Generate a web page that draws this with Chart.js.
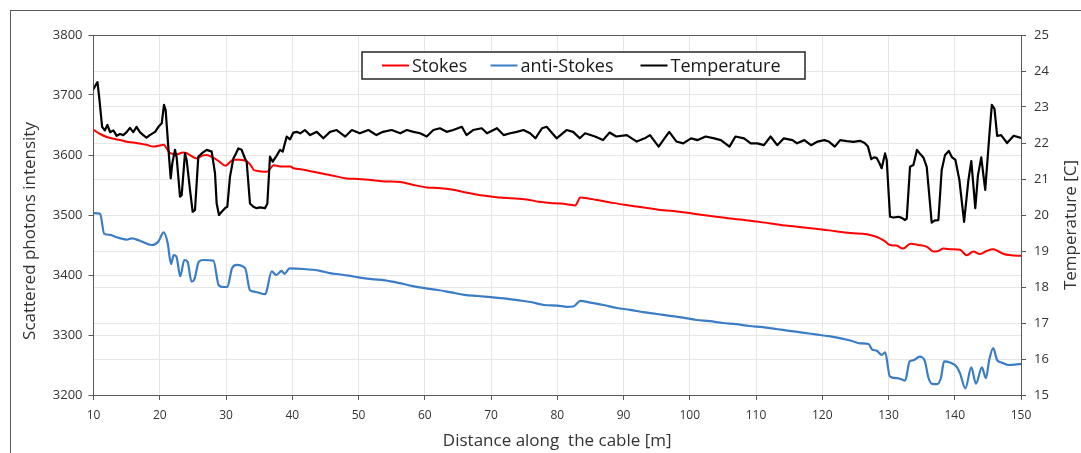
<!DOCTYPE html>
<html>
<head>
<meta charset="utf-8">
<script src="https://cdn.jsdelivr.net/npm/chart.js@4.4.0/dist/chart.umd.min.js"></script>
<style>
  body { margin: 0; background: #fff; }
  #wrap { position: relative; width: 1081px; height: 453px; overflow: hidden; }
  #frame { position: absolute; left: 10px; top: 10px; width: 1100px; height: 470px; border: 1px solid #595959; }
  #chart { position: absolute; left: 0; top: 0; }
</style>
</head>
<body>
<div id="wrap">
  <div id="frame"></div>
  <canvas id="chart" width="1081" height="453"></canvas>
</div>
<script>
// Stokes (left axis)
const stokesX = [10, 11, 12, 13, 14, 15, 16, 17, 18, 19, 20, 20.6, 21.2, 21.6, 22.5, 23.5, 24.1, 24.8, 25.6, 26.4,
  27.1, 28, 29, 29.9, 30.5, 31.1, 32, 33.2, 33.8, 34.2, 35, 36.2, 36.8, 37.2, 38.2, 39.7, 40.2, 41.5, 43.2, 44.5,
  46, 48.2, 50, 52.2, 54, 56.3, 58, 60.3, 62, 64.3, 66, 68.4, 70, 71.4, 73, 75.4, 77.2, 78.9, 80.5, 82,
  82.7, 83.5, 84.5, 86, 88, 90.1, 92, 94.1, 96, 98, 100.2, 102, 104, 106.2, 108, 110, 112.2, 114, 116, 118.3,
  120, 122, 124.3, 126.7, 127.8, 128.7, 129.5, 130.2, 131.2, 132.2, 133.3, 134.5, 135.8, 136.8, 137.5, 138.3, 139.5, 140.8, 141.8, 142.8,
  143.8, 144.8, 145.8, 146.5, 147.4, 148.5, 150];
const stokesY = [3642, 3635, 3630, 3627, 3625, 3622, 3621, 3619, 3617, 3614, 3616, 3617, 3608, 3603, 3601, 3604, 3603, 3598, 3594, 3599,
  3600, 3596, 3589, 3582, 3587, 3592, 3592, 3589, 3582, 3575, 3573, 3572, 3579, 3583, 3581, 3581, 3578, 3576, 3572, 3569,
  3566, 3561, 3560, 3558, 3556, 3555, 3551, 3546, 3545, 3542, 3538, 3533, 3531, 3529, 3528, 3526, 3522, 3520, 3519, 3517,
  3516, 3529, 3528, 3525, 3521, 3517, 3514, 3511, 3508, 3506, 3503, 3500, 3497, 3494, 3492, 3489, 3486, 3483, 3481, 3478,
  3476, 3473, 3470, 3468, 3465, 3461, 3456, 3450, 3449, 3444, 3452, 3450, 3447, 3439, 3440, 3444, 3443, 3442, 3433, 3439,
  3435, 3440, 3443, 3440, 3435, 3433, 3432];

// anti-Stokes (left axis)
const antiX = [10, 11, 11.6, 12.5, 13.5, 15, 15.8, 17, 18.8, 19.8, 20.6, 21.2, 21.7, 22.1, 22.5, 23.1, 23.7, 24.2, 24.8, 25.2,
  25.9, 26.6, 28.1, 28.9, 29.6, 30.2, 30.9, 31.6, 32.9, 33.6, 34.4, 35.9, 36.1, 36.9, 37.6, 38.4, 38.8, 39.6, 41.7, 44.2,
  45.7, 47.2, 48.5, 50, 52, 54, 56, 58, 60, 62, 64, 66, 68, 70, 72, 74, 76, 78, 80, 81.5,
  82.5, 83.5, 85, 87, 89, 91, 93, 95, 97, 99, 101, 103, 105, 107, 109, 111, 113, 115, 117, 119,
  121, 123, 124.5, 125.7, 127, 127.5, 128.2, 129, 129.5, 130.2, 131.2, 132, 132.5, 133.2, 133.8, 134.7, 135.5, 136, 136.5, 137.3,
  137.9, 138.4, 139.3, 140.3, 140.8, 141.6, 142.5, 143.2, 144.1, 144.7, 145.2, 145.8, 146.4, 147.1, 148.1, 150];
const antiY = [3503, 3502, 3469, 3467, 3463, 3459, 3461, 3457, 3450, 3456, 3471, 3453, 3418, 3433, 3431, 3398, 3425, 3422, 3389, 3392,
  3422, 3425, 3424, 3383, 3380, 3380, 3411, 3417, 3411, 3375, 3372, 3368, 3372, 3406, 3400, 3407, 3402, 3411, 3410, 3407,
  3403, 3401, 3399, 3396, 3393, 3391, 3387, 3382, 3378, 3375, 3371, 3367, 3365, 3363, 3361, 3358, 3355, 3350, 3349, 3347,
  3348, 3357, 3354, 3350, 3345, 3342, 3338, 3335, 3332, 3329, 3325, 3323, 3320, 3318, 3315, 3313, 3310, 3307, 3304, 3301,
  3298, 3294, 3290, 3286, 3285, 3276, 3274, 3267, 3271, 3231, 3228, 3226, 3224, 3256, 3258, 3264, 3256, 3230, 3219, 3218,
  3228, 3256, 3254, 3247, 3236, 3211, 3246, 3219, 3246, 3228, 3258, 3278, 3258, 3254, 3250, 3252];

// Temperature (right axis)
const tempX = [10, 10.3, 10.6, 10.9, 11.3, 11.7, 12.1, 12.5, 13, 13.5, 14, 14.5, 15, 15.5, 16, 16.5, 17, 17.5, 18, 18.5,
  19.3, 19.8, 20.3, 20.64, 20.9, 21.05, 21.4, 21.65, 21.9, 22.3, 22.55, 23.06, 23.31, 23.81, 24.06, 24.57, 24.97, 25.32, 25.82, 26.33,
  27.08, 27.84, 28.34, 28.59, 28.94, 29.35, 29.85, 30.2, 30.6, 31.11, 31.51, 31.86, 32.36, 32.87, 33.12, 33.62, 34.13, 34.63, 35.13, 35.89,
  36.24, 36.64, 37.05, 37.55, 38.15, 38.56, 39.16, 39.66, 40.17, 40.67, 41.2, 41.9, 42.7, 43.7, 44.7, 45.7, 46.7, 48, 49, 50.2,
  51.5, 52.7, 53.7, 55, 56.3, 57.3, 58.3, 59.3, 60.3, 61.3, 62.3, 63.3, 64.3, 65.6, 66.3, 67.3, 68.6, 69.4, 70.9, 71.9,
  72.9, 73.9, 74.9, 75.9, 76.7, 77.7, 78.4, 79.9, 81.4, 82.4, 83.4, 84.2, 85.7, 86.9, 87.9, 88.9, 90.5, 92, 93.2, 94,
  95.3, 96, 96.9, 98, 99, 100.2, 101.2, 102.4, 103.7, 104.7, 106, 106.9, 108.2, 109.2, 110.2, 111.2, 112.2, 113.2, 114.2, 115.5,
  116.2, 117.3, 118.3, 119.3, 120.3, 121, 121.9, 122.7, 123.7, 124.7, 125.7, 126.4, 126.9, 127.4, 127.8, 128.2, 128.6, 128.97, 129.48, 129.73,
  130.23, 130.73, 131.49, 132, 132.5, 132.75, 133.25, 133.76, 134.3, 134.76, 135.26, 135.77, 136.52, 137, 137.53, 138.03, 138.54, 139.1, 139.6, 140.1,
  140.7, 141.41, 142.06, 142.5, 143.1, 143.5, 144, 144.6, 145.3, 145.6, 146, 146.4, 147, 147.9, 148.9, 150];
const tempY = [23.5, 23.6, 23.69, 23.2, 22.45, 22.35, 22.5, 22.3, 22.35, 22.2, 22.25, 22.22, 22.3, 22.42, 22.3, 22.45, 22.3, 22.22, 22.15, 22.22,
  22.31, 22.45, 22.55, 23.06, 22.9, 22.5, 21.62, 21.02, 21.44, 21.81, 21.6, 20.51, 20.55, 21.71, 21.53, 20.69, 20.09, 20.14, 21.62, 21.71,
  21.81, 21.76, 21.16, 20.32, 20.0, 20.09, 20.19, 20.23, 21.06, 21.57, 21.71, 21.85, 21.81, 21.57, 21.48, 20.32, 20.23, 20.19, 20.21, 20.19,
  20.32, 21.62, 21.48, 21.62, 21.81, 21.76, 22.18, 22.1, 22.29, 22.31, 22.27, 22.36, 22.22, 22.31, 22.13, 22.31, 22.36, 22.18, 22.36, 22.27,
  22.36, 22.22, 22.31, 22.36, 22.27, 22.36, 22.31, 22.27, 22.18, 22.36, 22.41, 22.31, 22.36, 22.45, 22.22, 22.36, 22.41, 22.27, 22.41, 22.22,
  22.27, 22.31, 22.36, 22.27, 22.13, 22.41, 22.45, 22.13, 22.36, 22.31, 22.13, 22.27, 22.18, 22.08, 22.29, 22.18, 22.22, 22.04, 22.13, 22.22,
  21.9, 22.08, 22.31, 22.04, 21.99, 22.13, 22.08, 22.18, 22.13, 22.08, 21.9, 22.18, 22.13, 21.99, 21.99, 21.94, 22.18, 21.94, 22.13, 22.08,
  21.99, 22.08, 21.94, 22.04, 22.08, 22.04, 21.9, 22.08, 22.05, 22.03, 22.06, 22.0, 21.9, 21.55, 21.6, 21.59, 21.45, 21.3, 21.71, 21.53,
  19.95, 19.93, 19.95, 19.92, 19.86, 19.9, 21.34, 21.39, 21.81, 21.7, 21.6, 21.34, 19.79, 19.85, 19.86, 21.25, 21.67, 21.78, 21.6, 21.53,
  20.97, 19.81, 20.97, 21.5, 20.19, 21.1, 21.6, 20.7, 22.4, 23.06, 22.95, 22.2, 22.22, 22.0, 22.2, 22.14];

const xTicks = { min: 10, max: 150, step: 10 };
const leftTicks = { min: 3200, max: 3800, step: 100 };
const rightTicks = { min: 15, max: 25, step: 1 };

const axisColor = '#595959';
const gridColor = '#e6e6e6';
const textColor = '#333';
const fontFamily = "'Open Sans', 'DejaVu Sans', sans-serif";

function toPoints(xs, ys) {
  return xs.map((x, i) => ({ x: x, y: ys[i] }));
}

// legend box inside the plot, axis titles reading upward, top frame line
const extras = {
  id: 'extras',
  afterDraw(chart) {
    const ctx = chart.ctx;
    const area = chart.chartArea;
    ctx.save();

    ctx.strokeStyle = axisColor;
    ctx.lineWidth = 1;
    ctx.beginPath();
    ctx.moveTo(area.left, area.top + 0.5);
    ctx.lineTo(area.right, area.top + 0.5);
    ctx.stroke();

    // legend
    const bx = area.left + 268.5, by = area.top + 17, bw = 443, bh = 27;
    ctx.fillStyle = '#fff';
    ctx.fillRect(bx, by, bw, bh);
    ctx.strokeStyle = '#262626';
    ctx.lineWidth = 1.5;
    ctx.strokeRect(bx, by, bw, bh);
    const offsets = [20, 128.5, 278.5];
    ctx.font = '18px ' + fontFamily;
    ctx.textBaseline = 'middle';
    ctx.textAlign = 'left';
    chart.data.datasets.forEach((ds, i) => {
      const x0 = bx + offsets[i];
      const yc = by + bh / 2;
      ctx.strokeStyle = ds.borderColor;
      ctx.lineWidth = 2;
      ctx.beginPath();
      ctx.moveTo(x0, yc);
      ctx.lineTo(x0 + 27, yc);
      ctx.stroke();
      ctx.fillStyle = '#1a1a1a';
      ctx.fillText(ds.label, x0 + 30, yc + 1);
    });

    // y titles
    ctx.font = '17px ' + fontFamily;
    ctx.fillStyle = textColor;
    ctx.textAlign = 'center';
    ctx.textBaseline = 'middle';
    ctx.save();
    ctx.translate(30, 231);
    ctx.rotate(-Math.PI / 2);
    ctx.fillText('Scattered photons intensity', 0, 0);
    ctx.restore();
    ctx.save();
    ctx.translate(1071, 225);
    ctx.rotate(-Math.PI / 2);
    ctx.fillText('Temperature [C]', 0, 0);
    ctx.restore();

    ctx.restore();
  }
};

const ctx = document.getElementById('chart');

new Chart(ctx, {
  type: 'line',
  data: {
    datasets: [
      {
        label: 'Stokes',
        data: toPoints(stokesX, stokesY),
        borderColor: '#ff0000',
        borderWidth: 2,
        cubicInterpolationMode: 'monotone',
        yAxisID: 'y',
        order: 2
      },
      {
        label: 'anti-Stokes',
        data: toPoints(antiX, antiY),
        borderColor: '#3b7dc5',
        borderWidth: 2.2,
        cubicInterpolationMode: 'monotone',
        yAxisID: 'y',
        order: 3
      },
      {
        label: 'Temperature',
        data: toPoints(tempX, tempY),
        borderColor: '#000000',
        borderWidth: 2.2,
        tension: 0,
        yAxisID: 'y1',
        order: 1
      }
    ]
  },
  options: {
    responsive: false,
    animation: false,
    devicePixelRatio: 1,
    layout: { padding: { left: 0, right: 0, top: 35, bottom: 0 } },
    elements: {
      point: { radius: 0 },
      line: { borderCapStyle: 'round', borderJoinStyle: 'round' }
    },
    plugins: {
      legend: { display: false },
      tooltip: { enabled: false }
    },
    scales: {
      x: {
        type: 'linear',
        min: xTicks.min,
        max: xTicks.max,
        ticks: { stepSize: xTicks.step, padding: 8, color: textColor, font: { family: fontFamily, size: 12 }, maxRotation: 0 },
        grid: { color: gridColor, tickColor: axisColor, tickLength: 5 },
        border: { color: axisColor, width: 1 },
        title: {
          display: true,
          text: 'Distance along  the cable [m]',
          color: textColor,
          font: { family: fontFamily, size: 17 },
          padding: { top: 0, bottom: 2 }
        },
        afterFit: (s) => { s.height = 58; }
      },
      y: {
        position: 'left',
        min: leftTicks.min,
        max: leftTicks.max,
        ticks: {
          stepSize: leftTicks.step, padding: 6, color: textColor, font: { family: fontFamily, size: 13 },
          callback: (v) => String(v)
        },
        grid: { color: gridColor, tickColor: axisColor, tickLength: 5 },
        border: { color: axisColor, width: 1 },
        afterFit: (s) => { s.width = 93.5; }
      },
      y1: {
        position: 'right',
        min: rightTicks.min,
        max: rightTicks.max,
        ticks: { stepSize: rightTicks.step, padding: 8, color: textColor, font: { family: fontFamily, size: 13 } },
        grid: { color: gridColor, tickColor: axisColor, tickLength: 5 },
        border: { color: axisColor, width: 1 },
        afterFit: (s) => { s.width = 60; }
      }
    }
  },
  plugins: [extras]
});
</script>
</body>
</html>
